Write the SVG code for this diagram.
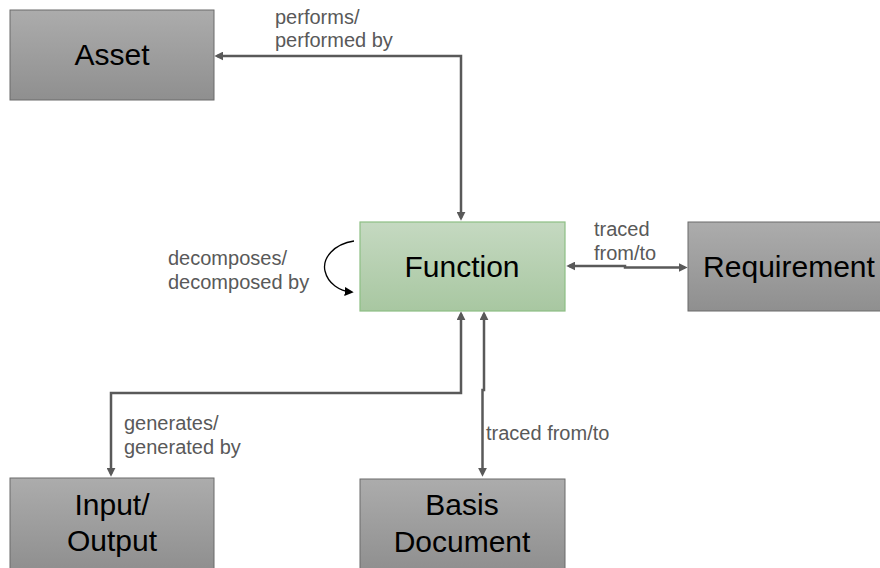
<svg xmlns="http://www.w3.org/2000/svg" width="880" height="568" viewBox="0 0 880 568">
  <defs>
    <linearGradient id="gGray" x1="0" y1="0" x2="0" y2="1">
      <stop offset="0" stop-color="#acacac"/>
      <stop offset="1" stop-color="#8f8f8f"/>
    </linearGradient>
    <linearGradient id="gGreen" x1="0" y1="0" x2="0" y2="1">
      <stop offset="0" stop-color="#c5d9c1"/>
      <stop offset="1" stop-color="#a8c7a1"/>
    </linearGradient>
    <marker id="arr" viewBox="0 0 10 10" refX="7" refY="5" markerWidth="9" markerHeight="9" markerUnits="userSpaceOnUse" orient="auto-start-reverse">
      <path d="M0,0 L10,5 L0,10 z" fill="#595959"/>
    </marker>
    <marker id="arrBlk" viewBox="0 0 10 10" refX="7" refY="5" markerWidth="9" markerHeight="9" markerUnits="userSpaceOnUse" orient="auto">
      <path d="M0,0 L10,5 L0,10 z" fill="#000000"/>
    </marker>
  </defs>
  <style>
    .box { fill: url(#gGray); stroke: #6b6b6b; stroke-width: 1; }
    .fbox { fill: url(#gGreen); stroke: #8dbf84; stroke-width: 1.2; }
    .ntext { font-family: "Liberation Sans", Arial, sans-serif; font-size: 30px; fill: #000000; text-anchor: middle; }
    .lbl { font-family: "Liberation Sans", Arial, sans-serif; font-size: 20px; fill: #595959; }
    .conn { fill: none; stroke: #595959; stroke-width: 2.5; marker-start: url(#arr); marker-end: url(#arr); }
    .loop { fill: none; stroke: #000000; stroke-width: 1.3; marker-end: url(#arrBlk); }
  </style>

  <g id="connectors">
    <path id="c-asset" class="conn" d="M217,56 H461 V218"/>
    <path id="c-req" class="conn" d="M569,266 H625 V267.5 H685"/>
    <path id="c-io" class="conn" d="M461,314 V393 H111 V474"/>
    <path id="c-basis" class="conn" d="M484,314 V390 H482.5 V474"/>
    <path id="c-self" class="loop" d="M354,241 C334,244 322,258 325,271 C328,284 340,291 351,292"/>
    <text class="lbl" x="275" y="24">performs/</text>
    <text class="lbl" x="275" y="47">performed by</text>
    <text class="lbl" x="594" y="236">traced</text>
    <text class="lbl" x="594" y="260">from/to</text>
    <text class="lbl" x="168" y="265">decomposes/</text>
    <text class="lbl" x="168" y="289">decomposed by</text>
    <text class="lbl" x="124" y="430">generates/</text>
    <text class="lbl" x="124" y="454">generated by</text>
    <text class="lbl" x="486" y="440">traced from/to</text>
  </g>

  <g id="asset">
    <rect class="box" x="10" y="10" width="204" height="90"/>
    <text class="ntext" x="112" y="65">Asset</text>
  </g>

  <g id="function">
    <rect class="fbox" x="360" y="222" width="205" height="89"/>
    <text class="ntext" x="462" y="277">Function</text>
  </g>

  <g id="requirement">
    <rect class="box" x="688" y="222" width="205" height="89"/>
    <text class="ntext" x="789" y="277">Requirement</text>
  </g>

  <g id="input-output">
    <rect class="box" x="10" y="478" width="204" height="92"/>
    <text class="ntext" x="112" y="515">Input/</text>
    <text class="ntext" x="112" y="551">Output</text>
  </g>

  <g id="basis-document">
    <rect class="box" x="360" y="479" width="205" height="92"/>
    <text class="ntext" x="462" y="515">Basis</text>
    <text class="ntext" x="462" y="552">Document</text>
  </g>
</svg>
